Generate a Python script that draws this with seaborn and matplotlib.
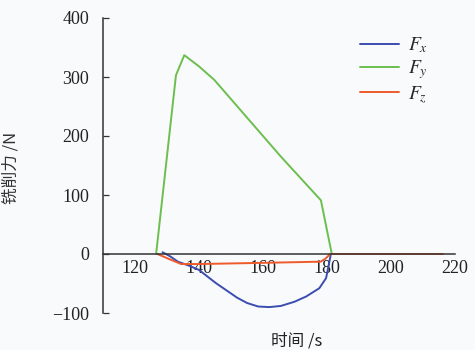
import matplotlib
matplotlib.use("Agg")
import matplotlib.pyplot as plt
import seaborn as sns
import pandas as pd

# Milling force components over time
fx_time = [128.6, 131.0, 133.4, 137.0, 140.0, 145.2, 151.9, 155.0, 158.5, 162.0, 165.6, 169.8, 173.5, 177.6, 179.7, 180.5, 181.2]
fx_force = [3, -4, -13, -20, -27, -49, -74, -83, -89, -90, -88, -81, -72, -58, -41, -20, 0]

fy_time = [126.6, 132.8, 135.4, 140.0, 144.8, 155.2, 165.6, 178.1, 181.5]
fy_force = [0, 303, 337, 318, 295, 230, 165, 91, 0]

fz_time = [127.0, 130.0, 134.4, 140.0, 160.0, 178.0, 179.5, 181.0, 216.2]
fz_force = [0, -7, -17, -17, -15, -13, -8, 0, 0]

x_ticks = [120, 140, 160, 180, 200, 220]
y_ticks = [-100, 0, 100, 200, 300, 400]

sns.set_theme(style="white")
plt.rcParams["font.family"] = ["Liberation Serif", "Noto Sans CJK SC", "DejaVu Sans"]
plt.rcParams["mathtext.fontset"] = "stix"

fig = plt.figure(figsize=(4.75, 3.5), dpi=100)
fig.patch.set_facecolor("#f8fafc")
ax = fig.add_axes([103 / 475, 37 / 350, 352 / 475, 295 / 350])
ax.set_facecolor("#f8fafc")

series = [
    (fx_time, fx_force, "#3b4db0", r"$F_x$"),
    (fy_time, fy_force, "#6cbf4e", r"$F_y$"),
    (fz_time, fz_force, "#ef5a2c", r"$F_z$"),
]
for t, f, c, lab in series:
    df = pd.DataFrame({"t": t, "f": f})
    sns.lineplot(data=df, x="t", y="f", ax=ax, color=c, lw=1.4, label=lab, sort=False)

ax.set_xlim(110, 220)
ax.set_ylim(-100, 400)
ax.set_xticks(x_ticks)
ax.set_yticks(y_ticks)
ax.set_yticklabels(["\u2212100", "0", "100", "200", "300", "400"])

for s in ["top", "right"]:
    ax.spines[s].set_visible(False)
ax.spines["bottom"].set_position(("data", 0))
for s in ["left", "bottom"]:
    ax.spines[s].set_color("#333333")
    ax.spines[s].set_linewidth(1.1)

ax.tick_params(axis="x", direction="in", length=4, width=0.9, color="#333333",
               labelsize=13, labelcolor="#222222", pad=4)
ax.tick_params(axis="y", direction="in", length=4, width=0.9, color="#333333",
               labelsize=13, labelcolor="#222222", pad=10, left=True)

ax.set_xlabel("时间 /s", fontsize=12, color="#222222",
              family=["Noto Sans CJK SC", "DejaVu Sans"])
ax.xaxis.set_label_coords((297 - 103) / 352, (313 - 333) / 295)
ax.set_ylabel("铣削力 /N", fontsize=12, color="#333333",
              family=["Noto Sans CJK SC", "DejaVu Sans"])
ax.yaxis.set_label_coords((20 - 103) / 352, (313 - 168) / 295)

leg = ax.legend(loc="upper left", bbox_to_anchor=(0.68, 1.0), frameon=False,
                fontsize=14, handlelength=2.0, handletextpad=0.5, labelspacing=0.15)

fig.savefig("out.png", dpi=100, facecolor=fig.get_facecolor())
